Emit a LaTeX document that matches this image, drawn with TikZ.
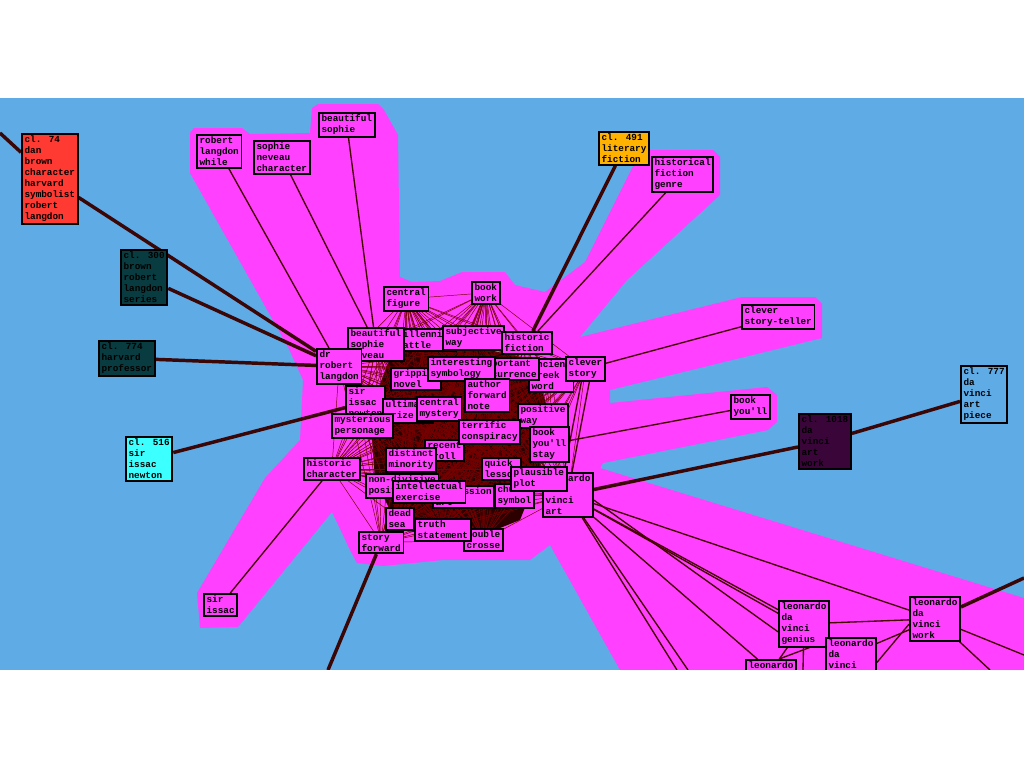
\documentclass[tikz,border=0pt]{standalone}
\usepackage{fontspec}
\newfontfamily\lblfont{Liberation Mono}
\definecolor{bgblue}{RGB}{94,171,230}
\definecolor{mag}{RGB}{255,64,255}
\definecolor{redc}{RGB}{255,58,50}
\definecolor{tealc}{RGB}{8,60,64}
\definecolor{cyanc}{RGB}{60,255,255}
\definecolor{orangec}{RGB}{255,178,0}
\definecolor{purplec}{RGB}{58,6,58}
\definecolor{thickcol}{RGB}{58,6,6}
\definecolor{thincol}{RGB}{70,0,0}
\definecolor{meshcol}{RGB}{120,0,0}
\definecolor{corecol}{RGB}{45,0,0}
\pgfdeclarelayer{bglayer}
\pgfdeclarelayer{meshlayer}
\pgfdeclarelayer{toplayer}
\pgfsetlayers{bglayer,meshlayer,main,toplayer}
\begin{document}
\begin{tikzpicture}[x=0.75pt,y=-0.75pt,
  lab/.style={draw=black, line width=1.4pt, align=left, anchor=north west,
    inner xsep=2pt, inner ysep=1.5pt, fill=mag,
    font=\lblfont\bfseries\fontsize{7}{8.25}\selectfont},
  thickc/.style={draw=thickcol, line width=2.6pt},
  thinc/.style={draw=thincol, line width=1pt},
  meshc/.style={draw=meshcol, line width=0.35pt}]
\useasboundingbox (0,0) rectangle (1024,768);

% free ends
\coordinate (oTL) at (0,133);
\coordinate (oR) at (1024,578);
\coordinate (oR2) at (1024,655);
\coordinate (oSF) at (328,670);
\coordinate (oB1) at (677,670);
\coordinate (oB2) at (688,670);
\coordinate (oB3) at (990,670);
\coordinate (oB4) at (803,670);

% cluster nodes
\node[lab,fill=redc] (c74) at (21,133) {cl. 74\\dan\\brown\\character\\harvard\\symbolist\\robert\\langdon};
\node[lab,fill=tealc] (c300) at (120,249) {cl. 300\\brown\\robert\\langdon\\series};
\node[lab,fill=tealc] (c774) at (98,340) {cl. 774\\harvard\\professor};
\node[lab,fill=cyanc] (c516) at (125,436) {cl. 516\\sir\\issac\\newton};
\node[lab,fill=orangec] (c491) at (598,131) {cl. 491\\literary\\fiction};
\node[lab,fill=purplec] (c1018) at (798,413) {cl. 1018\\da\\vinci\\art\\work};
\node[lab,fill=bgblue] (c777) at (960,365) {cl. 777\\da\\vinci\\art\\piece};

% outer magenta nodes
\node[lab] (rlw) at (196,134) {robert\\langdon\\while};
\node[lab] (snc) at (253,140) {sophie\\neveau\\character};
\node[lab] (bs) at (318,112) {beautiful\\sophie};
\node[lab] (hfg) at (651,156) {historical\\fiction\\genre};
\node[lab] (cst) at (741,304) {clever\\story-teller};
\node[lab] (byl) at (730,394) {book\\you'll};
\node[lab] (si) at (203,593) {sir\\issac};
\node[lab] (lvg) at (778,600) {leonardo\\da\\vinci\\genius};
\node[lab] (lvw) at (909,596) {leonardo\\da\\vinci\\work};
\node[lab] (lthree) at (825,637) {leonardo\\da\\vinci};
\node[lab] (lfour) at (745,659) {leonardo\\da};

% central nodes (drawing order = stacking order)
\node[lab] (agw) at (528,358) {ancient\\greek\\word};
\node[lab] (io) at (477,357) {important\\occurrence};
\node[lab] (gn) at (390,367) {gripping\\novel};
\node[lab] (mb) at (394,328) {millennial\\battle};
\node[lab] (is) at (427,356) {interesting\\symbology};
\node[lab] (sw) at (442,325) {subjective\\way};
\node[lab] (hf) at (501,331) {historic\\fiction};
\node[lab] (cs) at (565,356) {clever\\story};
\node[lab] (bw) at (471,281) {book\\work};
\node[lab] (cfig) at (383,286) {central\\figure};
\node[lab] (bsn) at (347,327) {beautiful\\sophie\\neveau};
\node[lab] (sin) at (345,385) {sir\\issac\\newton};
\node[lab] (drl) at (316,348) {dr\\robert\\langdon};
\node[lab] (up) at (382,398) {ultimate\\prize};
\node[lab] (cm) at (416,396) {central\\mystery};
\node[lab] (mp) at (331,413) {mysterious\\personage};
\node[lab] (afn) at (464,378) {author\\forward\\note};
\node[lab] (pw) at (517,403) {positive\\way};
\node[lab] (bys) at (529,426) {book\\you'll\\stay};
\node[lab] (rt) at (424,439) {recent\\troll};
\node[lab] (tc) at (458,419) {terrific\\conspiracy};
\node[lab] (dm) at (385,447) {distinct\\minority};
\node[lab] (hc) at (303,457) {historic\\character};
\node[lab] (nd) at (365,473) {non-divisive\\position};
\node[lab] (ses) at (432,485) {confession\\art};
\node[lab] (ie) at (392,480) {intellectual\\exercise};
\node[lab] (chs) at (494,483) {church\\symbol};
\node[lab] (ql) at (481,457) {quick\\lesson};
\node[lab] (ldva) at (542,472) {leonardo\\da\\vinci\\art};
\node[lab] (pp) at (510,466) {plausible\\plot};
\node[lab] (ds) at (385,507) {dead\\sea};
\node[lab] (dc) at (463,528) {double\\crosse};
\node[lab] (ts) at (414,518) {truth\\statement};
\node[lab] (sf) at (358,531) {story\\forward};

\begin{pgfonlayer}{bglayer}
  \fill[bgblue] (0,98) rectangle (1024,670);
  \fill[mag] (190,133) -- (194,128) -- (242,128) -- (250,134) -- (310,133) -- (312,108)
    -- (318,104) -- (378,104) -- (384,110) -- (398,135) -- (400,277) -- (412,282)
    -- (440,281) -- (462,272) -- (505,272) -- (515,285) -- (545,292) -- (585,262)
    -- (632,168) -- (648,150) -- (713,150) -- (720,157) -- (720,195) -- (627,280)
    -- (580,337) -- (742,297) -- (815,297) -- (822,304) -- (822,338) -- (610,390)
    -- (610,403) -- (767,387) -- (777,395) -- (777,422) -- (768,430) -- (603,463)
    -- (600,468) -- (1024,598) -- (1024,670) -- (620,670) -- (550,545) -- (530,560)
    -- (443,560) -- (383,566) -- (357,563) -- (350,550) -- (332,512) -- (238,627)
    -- (200,628) -- (197,593) -- (265,478) -- (300,440) -- (303,380) -- (288,347)
    -- (190,173) -- cycle;
  \fill[corecol] (395,345) -- (470,345) -- (530,360) -- (545,400) -- (540,470)
    -- (520,520) -- (470,540) -- (400,530) -- (375,480) -- (370,410) -- cycle;
\end{pgfonlayer}

\begin{pgfonlayer}{meshlayer}
  \foreach \a [count=\i] in {cfig,bsn,drl,mb,gn,is,sin,up,cm,mp,bw,sw,hf,io,agw,cs,afn,pw,bys,tc,rt,dm,hc,nd,ie,ds,ts,sf,ql,pp,ldva,chs,ses,dc}{
    \foreach \b [count=\j] in {cfig,bsn,drl,mb,gn,is,sin,up,cm,mp,bw,sw,hf,io,agw,cs,afn,pw,bys,tc,rt,dm,hc,nd,ie,ds,ts,sf,ql,pp,ldva,chs,ses,dc}{
      \ifnum\j>\i \draw[meshc] (\a.center) -- (\b.center);\fi
    }
  }
  % thin connectors
  \draw[thinc] (rlw) -- (drl);
  \draw[thinc] (snc) -- (bsn);
  \draw[thinc] (bs) -- (bsn);
  \draw[thinc] (hfg) -- (hf);
  \draw[thinc] (cst) -- (cs);
  \draw[thinc] (byl) -- (bys);
  \draw[thinc] (si) -- (hc);
  \draw[thinc] ([xshift=-3pt]cs.south) -- ([xshift=-3pt]ldva.north);
  \draw[thinc] ([xshift=3pt]cs.south) -- ([xshift=3pt]ldva.north);
  \draw[thinc] (ldva) -- (lvw);
  \draw[thinc] (ldva) -- (lvg);
  \draw[thinc] ([yshift=-4pt]ldva.east) -- ([yshift=-6pt]lvg.west);
  \draw[thinc] (ldva) -- (lthree);
  \draw[thinc] (ldva) -- (lfour);
  \draw[thinc] (ldva) -- (oB1);
  \draw[thinc] (ldva) -- (oB2);
  \draw[thinc] (lvg) -- (lvw);
  \draw[thinc] (lvg) -- (lfour);
  \draw[thinc] ([xshift=4pt]lvg.south) -- ([xshift=6pt]lfour.north);
  \draw[thinc] (lvg) -- (oB4);
  \draw[thinc] (lthree) -- (lvw);
  \draw[thinc] ([yshift=-6pt]lthree.east) -- ([yshift=-4pt]lvw.west);
  \draw[thinc] (lvw) -- (oR2);
  \draw[thinc] (lvw) -- (oB3);
  % thick connectors
  \draw[thickc] (oTL) -- (c74);
  \draw[thickc] (c74) -- (drl);
  \draw[thickc] (c300) -- (drl);
  \draw[thickc] (c774) -- (drl);
  \draw[thickc] (c516) -- (sin);
  \draw[thickc] (c491) -- (hf);
  \draw[thickc] (c1018) -- (ldva);
  \draw[thickc] (c1018) -- (c777);
  \draw[thickc] (lvw) -- (oR);
  \draw[thickc] (sf) -- (oSF);
\end{pgfonlayer}

\begin{pgfonlayer}{toplayer}
  \fill[white] (0,0) rectangle (1024,98);
  \fill[white] (0,670) rectangle (1024,768);
\end{pgfonlayer}
\end{tikzpicture}
\end{document}
